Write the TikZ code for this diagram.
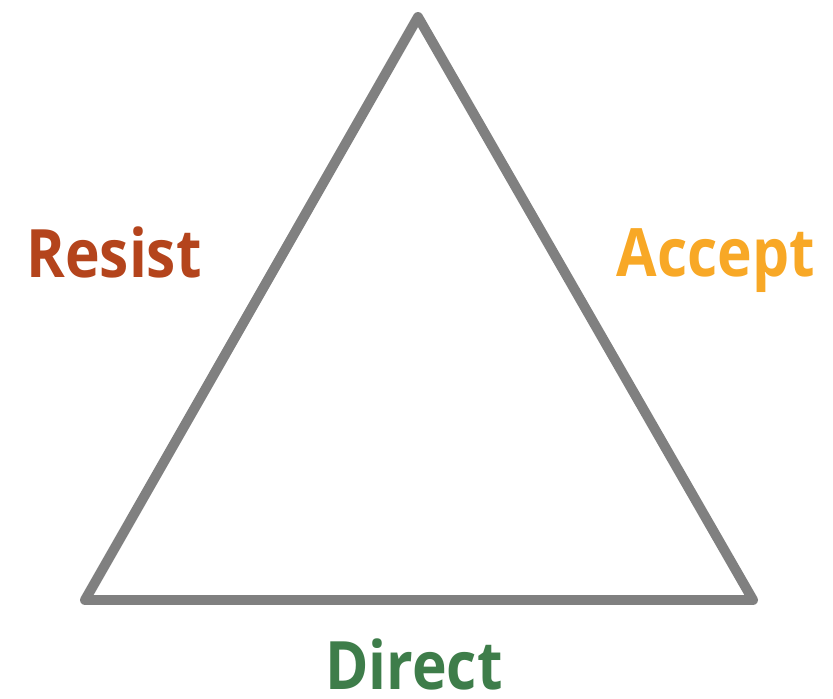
\documentclass[tikz,border=0pt]{standalone}
\usepackage{fontspec}
\setmainfont{Open Sans}
\newfontfamily\labelfont[FakeStretch=0.88]{Open Sans}
\usepackage{tikz}
\usetikzlibrary{calc}
\definecolor{resistcol}{HTML}{B4441C}
\definecolor{acceptcol}{HTML}{F8A826}
\definecolor{directcol}{HTML}{3E7D4A}
\definecolor{edgegray}{HTML}{808080}

\begin{document}
\begin{tikzpicture}[x=0.03cm,y=-0.03cm,
    side/.style={draw=edgegray,line width=8.5pt,line join=round},
    word/.style={font=\labelfont\fontsize{57}{57}\selectfont\bfseries,anchor=base,inner sep=0pt}]
              \useasboundingbox(0,0)rectangle(833,699);
              \coordinate(top)at(418,17);
              \coordinate(left)at(85,600);
              \coordinate(right)at(753,600);
              \draw[side](top)--(left)--(right)--cycle;
              \node[word,text=resistcol](resist)at(114,277){Resist};
              \node[word,text=acceptcol](accept)at(716,276){Accept};
              \node[word,text=directcol](direct)at(414,689){Direct};
            \end{tikzpicture}
\end{document}
